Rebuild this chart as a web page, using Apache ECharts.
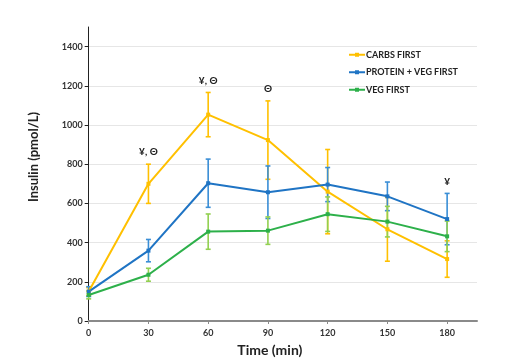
<!DOCTYPE html>
<html>
<head>
<meta charset="utf-8">
<script src="https://cdn.jsdelivr.net/npm/echarts@6/dist/echarts.min.js"></script>
<style>html,body{margin:0;padding:0;background:#fff}#c{width:506px;height:364px}</style>
</head>
<body>
<div id="c"></div>
<script>
const times = [0, 30, 60, 90, 120, 150, 180];
const carbsFirst = [150, 700, 1053, 923, 660, 468, 316];
const carbsErr = [20, 100, 113, 200, 215, 163, 93];
const proteinVegFirst = [150, 359, 703, 657, 696, 636, 520];
const proteinVegErr = [25, 57, 123, 134, 87, 73, 131];
const vegFirst = [133, 236, 456, 461, 545, 507, 432];
const vegErr = [20, 33, 90, 70, 88, 78, 78];
const annTimes = [30, 60, 90, 180];
const annTexts = ['¥, Θ', '¥, Θ', 'Θ', '¥'];
const seriesNames = ['CARBS FIRST', 'PROTEIN + VEG FIRST', 'VEG FIRST'];

const FONT = 'Lato';
const lineColors = ['#FFC000', '#1F74C4', '#2DB04A'];
const errColors = ['#FFC000', '#3A8ED6', '#92D050'];
const means = [carbsFirst, proteinVegFirst, vegFirst];
const errs = [carbsErr, proteinVegErr, vegErr];

const chart = echarts.init(document.getElementById('c'));

function errSeries(i) {
  return {
    type: 'custom',
    name: seriesNames[i] + ' err',
    z: 1,
    silent: true,
    data: times.map((t, k) => [t, means[i][k] - errs[i][k], means[i][k] + errs[i][k]]),
    renderItem: function (params, api) {
      const lo = api.coord([api.value(0), api.value(1)]);
      const hi = api.coord([api.value(0), api.value(2)]);
      const w = 2.5;
      const style = { stroke: errColors[i], lineWidth: 1.6 };
      return {
        type: 'group',
        children: [
          { type: 'line', shape: { x1: lo[0], y1: lo[1], x2: hi[0], y2: hi[1] }, style: style },
          { type: 'line', shape: { x1: lo[0] - w, y1: lo[1], x2: lo[0] + w, y2: lo[1] }, style: style },
          { type: 'line', shape: { x1: hi[0] - w, y1: hi[1], x2: hi[0] + w, y2: hi[1] }, style: style }
        ]
      };
    }
  };
}

function lineSeries(i) {
  return {
    type: 'line',
    name: seriesNames[i],
    z: 3,
    data: times.map((t, k) => [t, means[i][k]]),
    symbol: 'rect',
    symbolSize: 4,
    showAllSymbol: true,
    lineStyle: { color: lineColors[i], width: 2 },
    itemStyle: { color: lineColors[i] },
    emphasis: { disabled: true }
  };
}

const annSeries = {
  type: 'custom',
  z: 4,
  silent: true,
  data: annTimes.map((t, j) => {
    const k = times.indexOf(t);
    let top = 0;
    for (let i = 0; i < 3; i++) top = Math.max(top, means[i][k] + errs[i][k]);
    return [t, top, j];
  }),
  renderItem: function (params, api) {
    const p = api.coord([api.value(0), api.value(1)]);
    return {
      type: 'text',
      x: p[0],
      y: p[1] - 12,
      style: {
        text: annTexts[api.value(2)],
        fill: '#222',
        font: 'bold 10px ' + FONT,
        align: 'center',
        verticalAlign: 'middle'
      }
    };
  }
};

chart.setOption({
  animation: false,
  backgroundColor: '#fff',
  grid: { left: 88.7, right: 29, top: 27, bottom: 43, containLabel: false },
  legend: {
    orient: 'vertical',
    left: 343,
    top: 49,
    padding: [0, 5, 0, 5],
    itemWidth: 16,
    itemHeight: 5,
    itemGap: 6,
    data: seriesNames,
    textStyle: { fontFamily: FONT, fontWeight: 'bold', fontSize: 9, lineHeight: 11.5, color: '#222', padding: [0, 0, 0, -4] }
  },
  xAxis: {
    type: 'value',
    min: 0,
    max: 195,
    interval: 30,
    name: 'Time (min)',
    nameLocation: 'middle',
    nameGap: 22,
    nameTextStyle: { fontFamily: FONT, fontWeight: 'bold', fontSize: 14, color: '#222', padding: [0, 26, 0, 0] },
    axisLine: { show: true, onZero: false, lineStyle: { color: '#8a8a8a', width: 2 } },
    axisTick: { show: true, length: 3, lineStyle: { color: '#8a8a8a' } },
    axisLabel: { fontFamily: FONT, fontWeight: 'bold', fontSize: 9, color: '#333', margin: 8, showMaxLabel: false },
    splitLine: { show: false }
  },
  yAxis: {
    type: 'value',
    min: 0,
    max: 1500,
    interval: 200,
    name: 'Insulin (pmol/L)',
    nameLocation: 'middle',
    nameGap: 48,
    nameTextStyle: { fontFamily: FONT, fontWeight: 'bold', fontSize: 13, color: '#222', padding: [0, 0, 0, 34] },
    axisLine: { show: true, lineStyle: { color: '#222', width: 1 } },
    axisTick: { show: true, length: 4, lineStyle: { color: '#222' } },
    axisLabel: { fontFamily: FONT, fontWeight: 'bold', fontSize: 9, color: '#333', margin: 6, showMaxLabel: false, formatter: function (v) { return String(v); } },
    splitLine: { show: true, showMaxLine: false, showMinLine: false, lineStyle: { color: '#e6e6e6', width: 1 } }
  },
  series: [errSeries(0), errSeries(1), errSeries(2), lineSeries(0), lineSeries(1), lineSeries(2), annSeries]
});
</script>
</body>
</html>
